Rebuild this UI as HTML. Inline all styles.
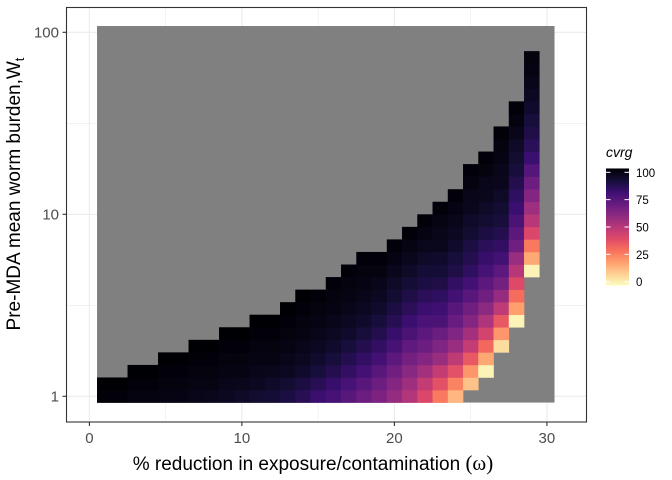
<!DOCTYPE html>
<html><head><meta charset="utf-8"><style>
html,body{margin:0;padding:0;background:#fff;}
svg{display:block;font-family:"Liberation Sans",Arial,sans-serif;}
</style></head><body>
<svg id="chart" width="672" height="480" viewBox="0 0 672 480">
  <rect x="0" y="0" width="672" height="480" fill="#fff"/>
  <g id="grid"></g>
  <g id="cells"></g>
  <rect x="66.5" y="7.5" width="520" height="414.5" fill="none" stroke="#333" stroke-width="1.1"/>
  <g id="axes"></g>
  <text x="20" y="194" transform="rotate(-90 20 194)" text-anchor="middle" font-size="19" fill="#000">Pre-MDA mean worm burden,W<tspan font-size="13" dy="4">t</tspan></text>
  <text x="313" y="470" text-anchor="middle" font-size="19" fill="#000">% reduction in exposure/contamination <tspan font-family="Liberation Serif, serif" font-size="21">(ω)</tspan></text>
  <g id="legend">
    <text x="606" y="157" font-size="14" font-style="italic" fill="#000">cvrg</text>
  </g>
</svg>
<script>
// ---- data ----
const columns = [1,2,3,4,5,6,7,8,9,10,11,12,13,14,15,16,17,18,19,20,21,22,23,24,25,26,27,28,29,30];
// first non-gray row index for each column (row r => W = 10^(2r/29)); -1 = all gray
const bottomRow = [0,0,0,0,0,0,0,0,0,0,0,0,0,0,0,0,0,0,0,0,0,0,0,0,1,2,4,6,10,-1];
const colValues = [
  [99,100],
  [99,100],
  [98,99,100],
  [98,99,100],
  [97,98,99,100],
  [97,98,99,100],
  [96,97,98,99,100],
  [95,97,98,99,100],
  [94,96,97,98,99,100],
  [93,95,97,98,99,100],
  [91,94,96,97,98,99,100],
  [90,93,95,97,98,99,100],
  [88,91,94,96,97,98,99,100],
  [85,88,92,94,96,97,98,99,100],
  [80,85,89,92,94,96,97,98,99],
  [77,81,86,89,92,94,96,97,98,99],
  [73,77,82,86,89,92,94,96,97,98,99],
  [68,73,78,82,86,89,92,94,96,97,98,99],
  [64,68,73,78,82,86,89,92,94,96,98,99],
  [58,62,67,72,77,81,85,88,91,93,95,97,99],
  [51,56,61,66,71,76,80,84,87,90,93,95,97,99],
  [41,47,55,62,68,72,76,80,84,88,90,93,95,97,99],
  [28,38,47,57,63,68,76,79,83,87,90,92,95,96,97,99],
  [15,26,38,48,57,63,69,73,78,82,87,89,92,94,96,97,99],
  [13,22,36,47,55,62,67,73,78,83,86,88,91,93,95,96,98,99],
  [2,18,32,43,52,60,67,72,77,81,84,88,91,93,95,96,98,99],
  [7,22,36,48,58,66,72,78,82,86,89,91,93,95,96,97,98,99],
  [2,20,31,40,50,57,67,72,76,80,83,86,89,91,93,96,98,99],
  [2,18,28,41,50,56,62,68,74,80,84,87,89,92,94,96,97,98],
  []
];
const nRows = 30;
const xTicks = [0,10,20,30];
const xMinor = [5,15,25];
const yTicks = [1,10,100];
const yMinor = [Math.sqrt(10), Math.sqrt(1000)];
const legendTicks = [0,25,50,75,100];

// ---- scales ----
const X0 = 89.4, XS = 15.25;
const Y0 = 396.3, YS = 182;
function xs(v){ return X0 + XS*v; }
function ys(w){ return Y0 - YS*Math.log10(w); }
function rowW(r){ return Math.pow(10, 2*r/(nRows-1)); }
const rowH = YS*2/(nRows-1);

const mag = ["#000004","#140E36","#3B0F70","#641A80","#8C2981","#B73779","#DE4968","#F7705C","#FE9F6D","#FECF92","#FCFDBF"];
function hex(h){ return [parseInt(h.substr(1,2),16),parseInt(h.substr(3,2),16),parseInt(h.substr(5,2),16)]; }
function color(v){
  let t = 1 - Math.max(0,Math.min(100,v))/100;
  let p = t*10, i = Math.min(9, Math.floor(p)), f = p - i;
  const a = hex(mag[i]), b = hex(mag[i+1]);
  return "rgb(" + a.map((c,k)=>Math.round(c+(b[k]-c)*f)).join(",") + ")";
}
const NS = "http://www.w3.org/2000/svg";
function mk(tag, attrs, parent){
  const e = document.createElementNS(NS, tag);
  for (const k in attrs) e.setAttribute(k, attrs[k]);
  parent.appendChild(e); return e;
}

// ---- grid ----
const grid = document.getElementById('grid');
xMinor.forEach(v=>{ const l = mk('line',{x1:xs(v),x2:xs(v),y1:7.5,y2:422,stroke:'#ebebeb','stroke-width':0.6},grid);
  
   });
xTicks.forEach(v=>{ const l = mk('line',{x1:xs(v),x2:xs(v),y1:7.5,y2:422,stroke:'#ebebeb','stroke-width':1.1},grid);
  
   });
yMinor.forEach(v=>{ const l = mk('line',{x1:66.5,x2:586.5,y1:ys(v),y2:ys(v),stroke:'#ebebeb','stroke-width':0.6},grid);
  
   });
yTicks.forEach(v=>{ const l = mk('line',{x1:66.5,x2:586.5,y1:ys(v),y2:ys(v),stroke:'#ebebeb','stroke-width':1.1},grid);
  
   });

// ---- cells ----
const cells = document.getElementById('cells');
const xL = xs(columns[0]-0.5), xR = xs(columns[columns.length-1]+0.5);
const yT = ys(rowW(nRows-1)) - rowH/2, yB = ys(rowW(0)) + rowH/2;
const bg = mk('rect',{x:xL,y:yT,width:xR-xL,height:yB-yT,fill:'#808080'},cells);


columns.forEach((c,ci)=>{
  const vals = colValues[ci];
  vals.forEach((v,k)=>{
    const r = bottomRow[ci] + k;
    const cy = ys(rowW(r));
    const rect = mk('rect',{x:xs(c-0.5),y:cy-rowH/2,width:XS+0.3,height:rowH+0.3,fill:color(v)},cells);
    
    
  });
});

// ---- axes ----
const axes = document.getElementById('axes');
xTicks.forEach(v=>{
  const t = mk('line',{x1:xs(v),x2:xs(v),y1:422,y2:426,stroke:'#333','stroke-width':1.1},axes);
  
  
  const tx = mk('text',{x:xs(v),y:443,'text-anchor':'middle','font-size':15,fill:'#4d4d4d'},axes);
  tx.textContent = v;
  
  
});
yTicks.forEach(v=>{
  const t = mk('line',{x1:62.5,x2:66.5,y1:ys(v),y2:ys(v),stroke:'#333','stroke-width':1.1},axes);
  
  
  const tx = mk('text',{x:59,y:ys(v)+5,'text-anchor':'end','font-size':15,fill:'#4d4d4d'},axes);
  tx.textContent = v;
  
  
});

// ---- legend ----
const leg = document.getElementById('legend');
const defs = mk('defs',{},leg);
const grad = mk('linearGradient',{id:'lg',x1:0,y1:1,x2:0,y2:0},defs);
for (let i=0;i<=20;i++){ mk('stop',{offset:i/20,'stop-color':color(i*5)},grad); }
const LB0 = 281.7, LB100 = 172.3;
function ly(v){ return LB0 + (LB100-LB0)*v/100; }
const bar = mk('rect',{x:606,y:ly(103.5),width:23,height:ly(-3.5)-ly(103.5),fill:'url(#lg)'},leg);


legendTicks.forEach(v=>{
  const a = mk('line',{x1:606,x2:610.5,y1:ly(v),y2:ly(v),stroke:'#fff','stroke-width':1},leg);
  
  
  const b = mk('line',{x1:624.5,x2:629,y1:ly(v),y2:ly(v),stroke:'#fff','stroke-width':1},leg);
  
  
  const tx = mk('text',{x:636,y:ly(v)+4.5,'font-size':11.5,fill:'#000'},leg);
  tx.textContent = v;
  
  
});
</script>
</body></html>
